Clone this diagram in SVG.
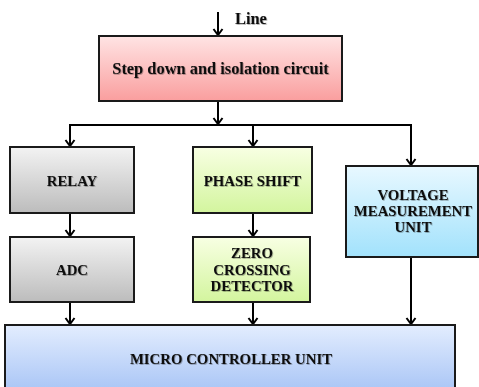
<svg xmlns="http://www.w3.org/2000/svg" width="479" height="387" viewBox="0 0 479 387">
<defs>
<linearGradient id="gPink" x1="0" y1="0" x2="0" y2="1"><stop offset="0" stop-color="#ffe4e4"/><stop offset="1" stop-color="#fa9e9e"/></linearGradient>
<linearGradient id="gGray" x1="0" y1="0" x2="0" y2="1"><stop offset="0" stop-color="#f3f3f3"/><stop offset="1" stop-color="#bcbcbc"/></linearGradient>
<linearGradient id="gGreen" x1="0" y1="0" x2="0" y2="1"><stop offset="0" stop-color="#f8ffe3"/><stop offset="1" stop-color="#d3f59e"/></linearGradient>
<linearGradient id="gCyan" x1="0" y1="0" x2="0" y2="1"><stop offset="0" stop-color="#e8f8ff"/><stop offset="1" stop-color="#a2e2fc"/></linearGradient>
<linearGradient id="gBlue" x1="0" y1="0" x2="0" y2="1"><stop offset="0" stop-color="#e3edfe"/><stop offset="1" stop-color="#9dbdf4"/></linearGradient>
<filter id="ts" x="-10%" y="-30%" width="120%" height="160%"><feDropShadow dx="0.8" dy="0.8" stdDeviation="0.6" flood-color="#000" flood-opacity="0.35"/></filter>
<marker id="ah" viewBox="-7 -5 9 10" refX="0" refY="0" markerWidth="9" markerHeight="10" markerUnits="userSpaceOnUse" orient="auto" overflow="visible">
<path d="M-6,-4.5 L0,0 L-6,4.5" fill="none" stroke="#000" stroke-width="2"/>
</marker>
</defs>
<style>
.box{stroke:#1a1a1a;stroke-width:2}
.t{font-family:"Liberation Serif","Times New Roman",serif;font-weight:bold;font-size:14.8px;fill:#111;text-anchor:middle;filter:url(#ts)}
.big{font-size:16.4px}
.c{fill:none;stroke:#000;stroke-width:2}
.a{marker-end:url(#ah)}
</style>
<rect width="479" height="387" fill="#fff"/>
<g id="connectors">
<path class="c a" d="M218,12 V35"/>
<path class="c a" d="M218,101 V124"/>
<path class="c" d="M69,125 H412"/>
<path class="c a" d="M70,125 V146"/>
<path class="c a" d="M253,125 V146"/>
<path class="c a" d="M411,125 V165"/>
<path class="c a" d="M70,213 V236"/>
<path class="c a" d="M253,213 V236"/>
<path class="c a" d="M70,302 V324"/>
<path class="c a" d="M253,302 V324"/>
<path class="c a" d="M411,257 V324"/>
</g>
<text class="t big" x="235" y="24" style="text-anchor:start">Line</text>
<g id="stepdown">
<rect class="box" x="99" y="36" width="243" height="65" fill="url(#gPink)"/>
<text class="t big" x="220.5" y="74">Step down and isolation circuit</text>
</g>
<g id="relay">
<rect class="box" x="10" y="147" width="124" height="66" fill="url(#gGray)"/>
<text class="t" x="72" y="186">RELAY</text>
</g>
<g id="phaseshift">
<rect class="box" x="193" y="147" width="119" height="66" fill="url(#gGreen)"/>
<text class="t" x="252.5" y="186">PHASE SHIFT</text>
</g>
<g id="voltage">
<rect class="box" x="346" y="166" width="132" height="91" fill="url(#gCyan)"/>
<text class="t" x="413" y="200">VOLTAGE</text>
<text class="t" x="413" y="216">MEASUREMENT</text>
<text class="t" x="413" y="232">UNIT</text>
</g>
<g id="adc">
<rect class="box" x="10" y="237" width="124" height="65" fill="url(#gGray)"/>
<text class="t" x="72" y="275">ADC</text>
</g>
<g id="zerocrossing">
<rect class="box" x="193" y="237" width="117" height="65" fill="url(#gGreen)"/>
<text class="t" x="252" y="258">ZERO</text>
<text class="t" x="252" y="275">CROSSING</text>
<text class="t" x="252" y="291">DETECTOR</text>
</g>
<g id="mcu">
<rect class="box" x="5" y="325" width="450" height="80" fill="url(#gBlue)"/>
<text class="t" x="231" y="364">MICRO CONTROLLER UNIT</text>
</g>
</svg>
